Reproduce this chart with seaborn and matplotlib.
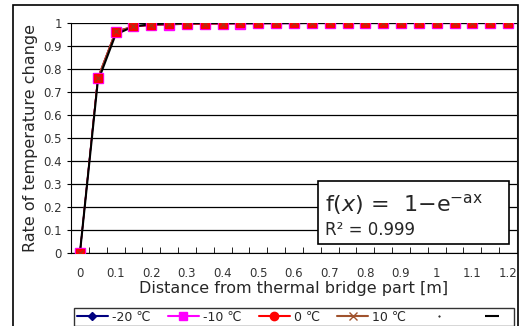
import matplotlib.pyplot as plt
import seaborn as sns
import pandas as pd
from matplotlib.lines import Line2D
from matplotlib.patches import Rectangle

# distances [m] (category axis, every 0.05 m)
distance = [0, 0.05, 0.1, 0.15, 0.2, 0.25, 0.3, 0.35, 0.4, 0.45, 0.5, 0.55, 0.6,
            0.65, 0.7, 0.75, 0.8, 0.85, 0.9, 0.95, 1.0, 1.05, 1.1, 1.15, 1.2]
tick_labels = ['0', '0.1', '0.2', '0.3', '0.4', '0.5', '0.6', '0.7', '0.8', '0.9',
               '1', '1.1', '1.2']

m20 = [0, 0.758, 0.962, 0.984, 0.990, 0.993, 0.995, 0.996, 0.997, 0.997, 0.998, 0.998, 0.998,
       0.999, 0.999, 0.999, 0.999, 0.999, 0.999, 1.0, 1.0, 1.0, 1.0, 1.0, 1.0]
m10 = [0, 0.760, 0.963, 0.985, 0.990, 0.993, 0.995, 0.996, 0.997, 0.997, 0.998, 0.998, 0.998,
       0.999, 0.999, 0.999, 0.999, 0.999, 0.999, 1.0, 1.0, 1.0, 1.0, 1.0, 1.0]
z0 = [0, 0.761, 0.963, 0.985, 0.991, 0.994, 0.995, 0.996, 0.997, 0.998, 0.998, 0.998, 0.999,
      0.999, 0.999, 0.999, 0.999, 0.999, 1.0, 1.0, 1.0, 1.0, 1.0, 1.0, 1.0]
p10 = [0, 0.762, 0.964, 0.986, 0.991, 0.994, 0.996, 0.997, 0.997, 0.998, 0.998, 0.999, 0.999,
       0.999, 0.999, 0.999, 1.0, 1.0, 1.0, 1.0, 1.0, 1.0, 1.0, 1.0, 1.0]
fit = [0, 0.745, 0.950, 0.985, 0.995, 0.998, 0.999, 1.0, 1.0, 1.0, 1.0, 1.0, 1.0,
       1.0, 1.0, 1.0, 1.0, 1.0, 1.0, 1.0, 1.0, 1.0, 1.0, 1.0, 1.0]

series_names = ['-20 ℃', '-10 ℃', '0 ℃', '10 ℃']
series_values = [m20, m10, z0, p10]

sns.set_style('white')
plt.rcParams['font.family'] = ['DejaVu Sans', 'Noto Sans CJK KR']

fig = plt.figure(figsize=(5.26, 3.26), dpi=100)
ax = fig.add_axes([71 / 526, 1 - 253 / 326, 446 / 526, 230 / 326])

pos = list(range(len(distance)))

styles = [
    dict(color='#000080', marker='D', markersize=4, mec='#000080'),
    dict(color='#ff00ff', marker='s', markersize=7, mec='#ff00ff'),
    dict(color='#ff0000', marker='s', markersize=6, mec='#ff0000'),
    dict(color='#a0522d', marker='x', markersize=5, mec='#b03010'),
]
# series lines first, fitted curve above them, markers on top
for name, vals, st in zip(series_names, series_values, styles):
    d = pd.DataFrame({'pos': pos, 'val': vals})
    sns.lineplot(data=d, x='pos', y='val', ax=ax, linewidth=1.0, zorder=3, color=st['color'])

df = pd.DataFrame({'pos': pos, 'fit': fit})
sns.lineplot(data=df, x='pos', y='fit', color='black', linewidth=1.5, ax=ax, zorder=4)

for name, vals, st in zip(series_names, series_values, styles):
    d = pd.DataFrame({'pos': pos, 'val': vals})
    sns.lineplot(data=d, x='pos', y='val', ax=ax, linestyle='none', zorder=5,
                 color=st['color'], marker=st['marker'], markersize=st['markersize'],
                 markeredgecolor=st['mec'], markeredgewidth=1.0)

ax.set_xlim(-0.5, len(distance) - 0.5)
ax.set_ylim(0, 1)
ax.set_xticks(pos[::2])
ax.set_xticklabels(tick_labels)
ax.set_xticks([p - 0.5 for p in pos] + [len(pos) - 0.5], minor=True)
ax.tick_params(axis='x', which='major', length=0, pad=10, labelsize=8.5, colors='#333333')
ax.tick_params(axis='x', which='minor', length=4, direction='in', color='black', bottom=True)
ax.set_yticks([i / 10 for i in range(11)])
ax.set_yticklabels(['0'] + [f'0.{i}' for i in range(1, 10)] + ['1'])
ax.tick_params(axis='y', length=3, direction='out', left=True, color='black',
               labelsize=8.5, colors='#333333')
ax.grid(axis='y', color='black', linewidth=0.9)
ax.spines['top'].set_visible(False)
ax.spines['right'].set_color('#888888')
ax.spines['left'].set_color('black')
ax.spines['bottom'].set_color('black')
ax.set_xlabel('Distance from thermal bridge part [m]', fontsize=11.5, labelpad=1)
ax.set_ylabel('Rate of temperature change', fontsize=11.5, labelpad=4)

# equation box
ax.text(0.57, 0.155, r'f($x$) =  1$-$e$^{-\mathrm{ax}}$', transform=ax.transAxes,
        fontsize=16, va='bottom', ha='left', zorder=7)
ax.text(0.57, 0.06, 'R² = 0.999', transform=ax.transAxes,
        fontsize=12, va='bottom', ha='left', zorder=7)
ax.add_patch(Rectangle((0.553, 0.04), 0.43, 0.275, transform=ax.transAxes,
                       facecolor='white', edgecolor='black', linewidth=1.2, zorder=6))

# legend
handles = [
    Line2D([], [], color='#000080', marker='D', markersize=4),
    Line2D([], [], color='#ff00ff', marker='s', markersize=6),
    Line2D([], [], color='#ff0000', marker='o', markersize=6),
    Line2D([], [], color='#a0522d', marker='x', markersize=6),
    Line2D([], [], color='black', marker='.', markersize=1, linestyle='none'),
    Line2D([], [], color='black', marker='_', markersize=10, markeredgewidth=1.5,
           linestyle='none'),
]
labels = series_names + ['', '']
leg = fig.legend(handles, labels, loc='lower left', bbox_to_anchor=(68 / 526, -0.02, 452 / 526, 0.08),
                 mode='expand', ncol=6, fontsize=9, frameon=True, fancybox=False,
                 handlelength=2.5, handletextpad=0.3, borderpad=0.2)
leg.get_frame().set_edgecolor('black')
leg.get_frame().set_linewidth(1.0)

# outer chart border
fig.patches.append(Rectangle((13 / 526, -0.05), 505 / 526, 1.05 - 5 / 326,
                             transform=fig.transFigure, fill=False,
                             edgecolor='black', linewidth=1.2))

fig.savefig('out.png', dpi=100)
